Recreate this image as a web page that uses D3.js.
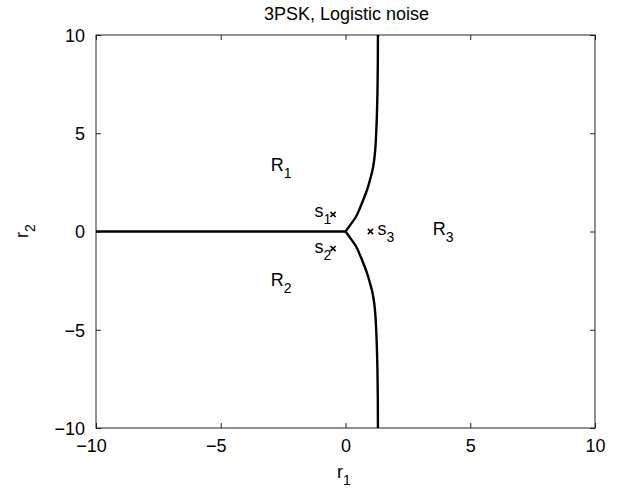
<!DOCTYPE html>
<html>
<head>
<meta charset="utf-8">
<script src="https://cdn.jsdelivr.net/npm/d3@7"></script>
<style>
  html, body { margin: 0; padding: 0; background: #fff; }
  svg text { font-family: "Liberation Sans", Arial, Helvetica, sans-serif; fill: #000; }
</style>
</head>
<body>
<svg id="chart" width="623" height="490"></svg>
<script>
// Decision boundary for 3PSK under logistic noise (upper branch, r2 >= 0)
const boundaryR1 = [0, 0.23, 0.42, 0.58, 0.71, 0.86, 0.98, 1.08, 1.15, 1.20, 1.23, 1.26, 1.28, 1.295, 1.30];
const boundaryR2 = [0, 0.4, 0.75, 1.2, 1.6, 2.1, 2.62, 3.1, 3.64, 4.3, 5.0, 6.0, 7.0, 8.5, 10];
// Left branch between R1 and R2
const leftR1 = [-10, 0];
const leftR2 = [0, 0];

// Constellation points
const symbolNames = ["1", "2", "3"];
const symbolR1 = [-0.5, -0.5, 1];
const symbolR2 = [0.866, -0.866, 0];

// Region labels
const regionNames = ["1", "2", "3"];
const regionR1 = [-3, -3, 3.5];
const regionR2 = [3.1, -2.75, -0.18];

const xTicks = [-10, -5, 0, 5, 10];
const yTicks = [-10, -5, 0, 5, 10];
const titleText = "3PSK, Logistic noise";

const svg = d3.select("#chart");
const m = { left: 96, right: 595, top: 35, bottom: 428 };

const x = d3.scaleLinear().domain([-10, 10]).range([m.left, m.right]);
const y = d3.scaleLinear().domain([-10, 10]).range([m.bottom, m.top]);

const fmt = d => (d < 0 ? "\u2212" + Math.abs(d) : String(d));

// Plot box
svg.append("rect")
  .attr("x", m.left).attr("y", m.top)
  .attr("width", m.right - m.left).attr("height", m.bottom - m.top)
  .attr("fill", "none").attr("stroke", "#222").attr("stroke-width", 1);

const tickLen = 5;
// Axes with inward ticks on all four sides
const gB = svg.append("g").attr("transform", `translate(0,${m.bottom})`)
  .call(d3.axisBottom(x).tickValues(xTicks).tickSizeInner(-tickLen).tickSizeOuter(0).tickPadding(11).tickFormat(fmt));
const gT = svg.append("g").attr("transform", `translate(0,${m.top})`)
  .call(d3.axisTop(x).tickValues(xTicks).tickSizeInner(-tickLen).tickSizeOuter(0).tickFormat(""));
const gL = svg.append("g").attr("transform", `translate(${m.left},0)`)
  .call(d3.axisLeft(y).tickValues(yTicks).tickSizeInner(-tickLen).tickSizeOuter(0).tickPadding(11).tickFormat(fmt));
const gR = svg.append("g").attr("transform", `translate(${m.right},0)`)
  .call(d3.axisRight(y).tickValues(yTicks).tickSizeInner(-tickLen).tickSizeOuter(0).tickFormat(""));

[gB, gT, gL, gR].forEach(g => {
  g.select(".domain").remove();
  g.selectAll(".tick line").attr("stroke", "#222").attr("stroke-width", 1);
  g.selectAll("text").attr("font-size", 18).attr("fill", "#000")
    .style("font-family", '"Liberation Sans", Arial, sans-serif');
});
gL.selectAll("text").attr("dy", "0.36em");
// negative labels sit a little left of their tick
gB.selectAll(".tick text").filter(d => d < 0).attr("dx", -5);

// Boundaries
const line = d3.line().x(d => x(d[0])).y(d => y(d[1]));
const upper = boundaryR1.map((v, i) => [v, boundaryR2[i]]);
const lower = boundaryR1.map((v, i) => [v, -boundaryR2[i]]);
const left = leftR1.map((v, i) => [v, leftR2[i]]);

const bg = svg.append("g").attr("fill", "none").attr("stroke", "#000")
  .attr("stroke-width", 2.4).attr("stroke-linejoin", "round");
bg.append("path").attr("d", line.curve(d3.curveMonotoneY)(upper));
bg.append("path").attr("d", line.curve(d3.curveMonotoneY)(lower.slice().reverse()));
bg.append("path").attr("d", d3.line().x(d => x(d[0])).y(d => y(d[1]))(left));

// Symbol markers (x)
const ms = 2.6;
symbolR1.forEach((v, i) => {
  const cx = x(v), cy = y(symbolR2[i]);
  svg.append("path")
    .attr("d", `M${cx - ms},${cy - ms}L${cx + ms},${cy + ms}M${cx - ms},${cy + ms}L${cx + ms},${cy - ms}`)
    .attr("stroke", "#000").attr("stroke-width", 1.5);
});

// Symbol labels, offset from the marker
const labelOffsets = [[-18.5, 2.7], [-18.5, 4.4], [7, 3.4]];
symbolNames.forEach((n, i) => {
  const t = svg.append("text")
    .attr("x", x(symbolR1[i]) + labelOffsets[i][0])
    .attr("y", y(symbolR2[i]) + labelOffsets[i][1])
    .attr("font-size", 18);
  t.append("tspan").text("s");
  t.append("tspan").attr("font-size", 14).attr("dy", 7).text(n);
});

// Region labels
regionNames.forEach((n, i) => {
  const t = svg.append("text")
    .attr("x", x(regionR1[i]))
    .attr("y", y(regionR2[i]))
    .attr("font-size", 18);
  t.append("tspan").text("R");
  t.append("tspan").attr("font-size", 14).attr("dy", 7).text(n);
});

// Title
svg.append("text")
  .attr("x", (m.left + m.right) / 2 + 1).attr("y", 20)
  .attr("text-anchor", "middle").attr("font-size", 18)
  .text(titleText);

// Axis labels
const xl = svg.append("text")
  .attr("x", 337).attr("y", 478).attr("font-size", 18);
xl.append("tspan").text("r");
xl.append("tspan").attr("font-size", 14).attr("dy", 7).text("1");

const yl = svg.append("text")
  .attr("transform", "translate(28,238) rotate(-90)")
  .attr("font-size", 18);
yl.append("tspan").text("r");
yl.append("tspan").attr("font-size", 14).attr("dy", 7).text("2");
</script>
</body>
</html>
